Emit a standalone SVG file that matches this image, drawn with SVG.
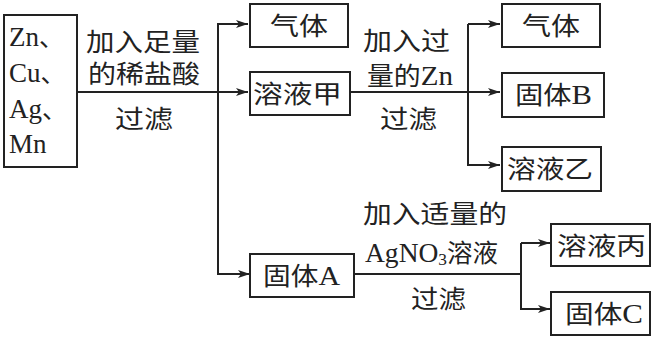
<svg xmlns="http://www.w3.org/2000/svg" width="654" height="338" viewBox="0 0 654 338">
<style>
.box{fill:#fff;stroke:#222;stroke-width:2}
.ln{fill:none;stroke:#222;stroke-width:2}
text{font-family:"Liberation Serif","Noto Sans CJK SC",serif;font-size:25px;fill:#222}
.el{font-size:27px}
</style>
<defs>
<marker id="ar" viewBox="0 0 12 10" refX="12" refY="5" markerWidth="12" markerHeight="10" markerUnits="userSpaceOnUse" orient="auto">
<path d="M0,1 L12,5 L0,9 L3,5 Z" fill="#222"/>
</marker>
</defs>
<rect width="654" height="338" fill="#fff"/>
<g id="connectors">
<path class="ln" d="M77,92 H248" marker-end="url(#ar)"/>
<path class="ln" d="M248,24 H218 V274 H250" marker-end="url(#ar)"/>
<path class="ln" d="M218,24 H248" marker-end="url(#ar)"/>
<path class="ln" d="M350,92 H500" marker-end="url(#ar)"/>
<path class="ln" d="M468,24 V165 H500" marker-end="url(#ar)"/>
<path class="ln" d="M468,24 H500" marker-end="url(#ar)"/>
<path class="ln" d="M354,274 H521"/>
<path class="ln" d="M521,243 V309 H550" marker-end="url(#ar)"/>
<path class="ln" d="M521,243 H550" marker-end="url(#ar)"/>
</g>
<g id="labels">
<text x="86" y="51" textLength="114" lengthAdjust="spacingAndGlyphs">加入足量</text>
<text x="88" y="83" textLength="112" lengthAdjust="spacingAndGlyphs">的稀盐酸</text>
<text x="115" y="128" textLength="58" lengthAdjust="spacingAndGlyphs">过滤</text>
<text x="363" y="50" textLength="87" lengthAdjust="spacingAndGlyphs">加入过</text>
<text x="367" y="85" textLength="86" lengthAdjust="spacingAndGlyphs">量的<tspan font-size="27">Zn</tspan></text>
<text x="380" y="128" textLength="57" lengthAdjust="spacingAndGlyphs">过滤</text>
<text x="363" y="223" textLength="144" lengthAdjust="spacingAndGlyphs">加入适量的</text>
<text x="365" y="262" textLength="133" lengthAdjust="spacingAndGlyphs"><tspan font-size="27">AgNO</tspan><tspan font-size="17" dy="3">3</tspan><tspan dy="-3">溶液</tspan></text>
<text x="411" y="308" textLength="55" lengthAdjust="spacingAndGlyphs">过滤</text>
</g>
<g id="start">
<rect class="box" x="4" y="15" width="73" height="152"/>
<text class="el" x="9" y="46">Zn<tspan font-size="25">、</tspan></text>
<text class="el" x="9" y="82">Cu<tspan font-size="25">、</tspan></text>
<text class="el" x="9" y="118">Ag<tspan font-size="25">、</tspan></text>
<text class="el" x="9" y="153">Mn</text>
</g>
<g id="gas1">
<rect class="box" x="250" y="4" width="98" height="43"/>
<text x="270" y="35" textLength="58" lengthAdjust="spacingAndGlyphs">气体</text>
</g>
<g id="solJia">
<rect class="box" x="250" y="72" width="100" height="43"/>
<text x="253" y="103" textLength="89" lengthAdjust="spacingAndGlyphs">溶液甲</text>
</g>
<g id="solidA">
<rect class="box" x="250" y="254" width="104" height="43"/>
<text x="263" y="285" textLength="77" lengthAdjust="spacingAndGlyphs">固体<tspan font-size="27">A</tspan></text>
</g>
<g id="gas2">
<rect class="box" x="502" y="4" width="98" height="43"/>
<text x="522" y="35" textLength="58" lengthAdjust="spacingAndGlyphs">气体</text>
</g>
<g id="solidB">
<rect class="box" x="502" y="73" width="102" height="44"/>
<text x="515" y="104" textLength="77" lengthAdjust="spacingAndGlyphs">固体<tspan font-size="27">B</tspan></text>
</g>
<g id="solYi">
<rect class="box" x="502" y="147" width="99" height="44"/>
<text x="507" y="178" textLength="86" lengthAdjust="spacingAndGlyphs">溶液乙</text>
</g>
<g id="solBing">
<rect class="box" x="551" y="224" width="99" height="42"/>
<text x="557" y="255" textLength="89" lengthAdjust="spacingAndGlyphs">溶液丙</text>
</g>
<g id="solidC">
<rect class="box" x="551" y="292" width="99" height="43"/>
<text x="565" y="323" textLength="78" lengthAdjust="spacingAndGlyphs">固体<tspan font-size="27">C</tspan></text>
</g>
</svg>
